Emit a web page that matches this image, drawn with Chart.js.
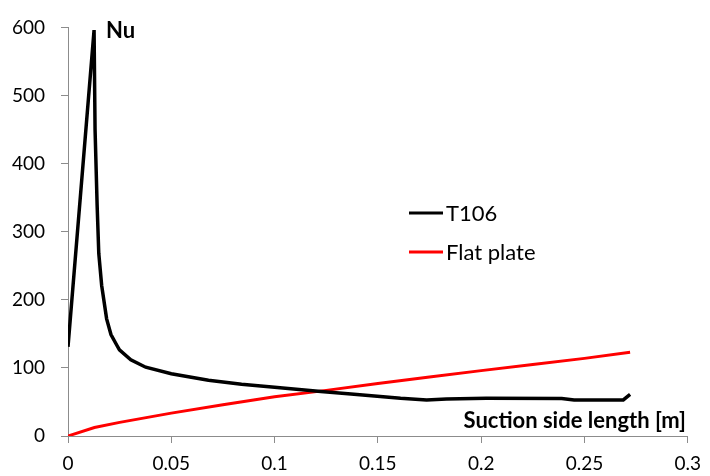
<!DOCTYPE html>
<html>
<head>
<meta charset="utf-8">
<script src="https://cdn.jsdelivr.net/npm/chart.js@4"></script>
<style>
  html, body { margin: 0; padding: 0; background: #fff; }
  #wrap { width: 710px; height: 476px; }
</style>
</head>
<body>
<div id="wrap"><canvas id="myChart" width="710" height="476"></canvas></div>
<script>
// T106 blade, suction side
var t106X = [0, 0.01262, 0.0131, 0.0141, 0.0149, 0.0163, 0.0187, 0.0208, 0.0235, 0.0249, 0.0304, 0.0376, 0.05, 0.068, 0.084, 0.1, 0.1224, 0.137, 0.161, 0.1736, 0.1832, 0.2025, 0.239, 0.245, 0.2688, 0.2721];
var t106Y = [131, 596, 450, 339, 268, 221, 172, 149, 134, 126.5, 112, 101, 91.5, 82, 76, 71.5, 65.5, 61.6, 55.3, 53, 54.4, 55.3, 55, 53, 53, 61];
// flat plate correlation
var plateX = [0, 0.0128, 0.025, 0.05, 0.075, 0.1, 0.125, 0.15, 0.175, 0.2, 0.225, 0.25, 0.2721];
var plateY = [0, 12.5, 20, 33.6, 46, 57.5, 67, 77, 86.5, 96, 105, 114, 123];

var xTicks = [0, 0.05, 0.1, 0.15, 0.2, 0.25, 0.3];
var yTicks = [0, 100, 200, 300, 400, 500, 600];

var FONT = 'Lato, "Open Sans", sans-serif';
var axisGray = '#8c8c8c';

function toPoints(xs, ys) {
    return xs.map(function (x, i) { return { x: x, y: ys[i] }; });
}

// legend + axis titles placed inside the plot like the original
var labelsPlugin = {
    id: 'labelsPlugin',
    afterDraw: function (chart) {
        var ctx = chart.ctx;
        ctx.save();
        ctx.textBaseline = 'middle';

        // legend
        var lx = 409, ly = [213, 252];
        chart.data.datasets.forEach(function (ds, i) {
            ctx.strokeStyle = ds.borderColor;
            ctx.lineWidth = 3;
            ctx.beginPath();
            ctx.moveTo(lx, ly[i]);
            ctx.lineTo(lx + 34, ly[i]);
            ctx.stroke();
            ctx.fillStyle = '#000';
            ctx.font = '22px ' + FONT;
            ctx.textAlign = 'left';
            ctx.fillText(ds.label, lx + 37, ly[i] + 1);
        });

        ctx.font = 'bold 22px ' + FONT;
        ctx.textAlign = 'left';
        ctx.fillText('Nu', 106, 31);
        ctx.textAlign = 'right';
        ctx.fillText('Suction side length [m]', 686, 421);
        ctx.restore();
    }
};

var ctx = document.getElementById('myChart').getContext('2d');
var myChart = new Chart(ctx, {
    type: 'line',
    data: {
        datasets: [{
            label: 'T106',
            data: toPoints(t106X, t106Y),
            borderColor: '#000000',
            borderWidth: 3.5,
            pointRadius: 0,
            tension: 0,
            fill: false
        }, {
            label: 'Flat plate',
            data: toPoints(plateX, plateY),
            borderColor: '#ff0000',
            borderWidth: 3,
            pointRadius: 0,
            tension: 0,
            fill: false
        }]
    },
    options: {
        responsive: false,
        animation: false,
        layout: { padding: { top: 19, right: 17, left: 0, bottom: 0 } },
        plugins: {
            legend: { display: false },
            tooltip: { enabled: false }
        },
        scales: {
            x: {
                type: 'linear',
                min: 0,
                max: 0.3,
                afterBuildTicks: function (axis) {
                    axis.ticks = xTicks.map(function (v) { return { value: v }; });
                },
                afterFit: function (axis) { axis.height = 40; },
                grid: { drawOnChartArea: false, drawTicks: true, tickLength: 7, color: axisGray },
                border: { color: axisGray, width: 1 },
                ticks: {
                    color: '#000',
                    font: { family: FONT, size: 19 },
                    padding: 9,
                    maxRotation: 0,
                    callback: function (v) { return String(v); }
                }
            },
            y: {
                type: 'linear',
                min: 0,
                max: 600,
                afterBuildTicks: function (axis) {
                    axis.ticks = yTicks.map(function (v) { return { value: v }; });
                },
                afterFit: function (axis) { axis.width = 68; },
                grid: { drawOnChartArea: false, drawTicks: true, tickLength: 7, color: axisGray },
                border: { color: axisGray, width: 1 },
                ticks: {
                    color: '#000',
                    font: { family: FONT, size: 19 },
                    padding: 16
                }
            }
        }
    },
    plugins: [labelsPlugin]
});
</script>
</body>
</html>
